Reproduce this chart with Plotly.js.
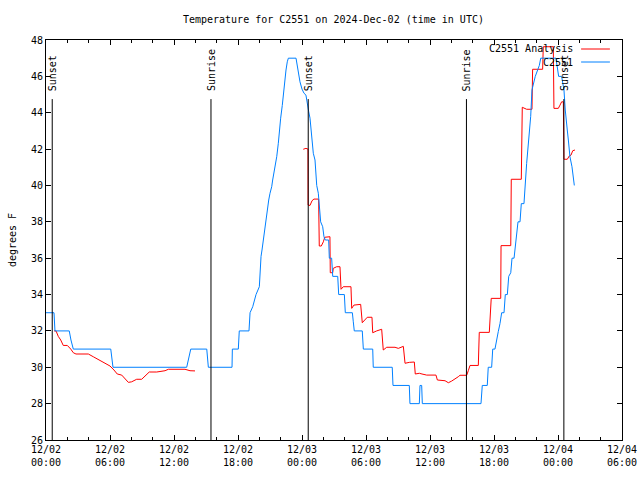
<!DOCTYPE html>
<html>
<head>
<meta charset="utf-8">
<script src="https://cdn.plot.ly/plotly-3.0.1.min.js"></script>
<style>html,body{margin:0;padding:0;background:#fff}#chart{width:640px;height:480px}</style>
</head>
<body>
<div id="chart"></div>
<script>
// Hours since 2024-12-02 00:00 UTC
const blueHours = [0.0,0.75,0.84,2.18,2.34,2.56,6.07,6.19,6.28,13.19,13.36,13.57,15.07,15.22,17.44,17.47,18.03,18.12,19.03,19.13,19.38,19.69,20.0,20.06,20.16,20.25,20.44,20.62,20.75,20.88,21.0,21.16,21.25,21.38,21.56,21.63,21.78,21.87,22.0,22.15,22.25,22.38,22.5,22.62,22.72,23.44,23.5,23.65,23.81,24.0,24.19,24.37,24.5,24.63,24.75,24.97,25.06,25.22,25.38,25.53,25.69,25.75,25.94,26.06,26.18,26.5,26.56,26.78,26.88,27.35,27.44,27.97,28.06,28.72,28.81,28.9,29.65,29.75,30.63,30.68,32.46,32.53,34.06,34.12,35.0,35.06,35.22,35.28,40.78,40.9,41.37,41.46,41.78,41.88,42.09,42.25,42.4,42.56,42.72,42.94,43.06,43.25,43.38,43.57,43.69,43.88,44.06,44.25,44.44,44.56,44.81,44.93,45.06,45.25,45.44,45.56,45.87,46.25,46.38,47.81,47.93,48.06,48.34,48.44,48.56,48.68,48.81,48.87,48.97,49.12,49.31,49.43,49.53];
const blueTemps = [33,33,32,32,31.5,31,31,30.5,30,30,30.5,31,31,30,30,31,31,32,32,33,33.33,34,34.43,35.53,36.1,36.45,37.37,37.95,38.56,39.2,39.57,39.93,40.3,40.76,41.2,41.58,42.32,43.05,43.7,44.4,45.07,45.7,46.35,46.8,47,47,46.8,46.17,45.7,45.3,45.07,44.97,44.4,44.05,43.7,42.5,41.77,41.4,40.0,39.57,38.56,38.0,37.73,37.18,37.0,37.0,36.0,36.0,35.0,35.0,34.0,34.0,33.0,33.0,32.5,32.0,32.0,31.0,31.0,30.0,30.0,29.0,29.0,28.0,28.0,29.0,29.0,28.0,28.0,29.0,29.0,30.0,30.0,31.0,31.0,31.6,31.96,32.4,33.0,33.0,34.0,34.0,35.0,35.2,36.0,36.0,37.0,38.0,38.0,39.0,39.0,40.3,41.2,42.5,43.8,45.25,46.0,46.6,47.0,47.0,46.5,46.0,46.0,45.6,45.25,44.15,43.6,43.05,42.5,41.58,41.03,40.48,40.0];

const redHours = [0.75,0.94,1.15,1.38,1.62,2.0,2.32,2.56,2.81,3.97,4.43,4.9,5.53,6.0,6.37,6.68,7.1,7.41,7.72,8.03,8.5,8.97,9.28,9.68,10.38,11.16,11.47,13.03,13.5,13.97,
  null,
  24.12,24.37,24.56,24.57,24.75,24.94,25.12,25.56,25.62,25.81,26.0,26.13,26.62,26.65,26.88,26.93,27.25,27.56,27.66,27.87,28.59,28.66,28.87,29.5,29.65,29.91,30.12,30.56,30.63,31.0,31.47,31.62,31.94,32.72,33.03,33.5,33.66,34.06,34.53,34.62,35.0,35.25,35.69,36.56,36.69,37.41,37.72,38.03,38.34,38.65,38.81,39.44,39.59,39.75,40.53,40.62,41.56,41.74,42.63,42.66,43.57,43.62,44.56,44.65,45.06,45.56,45.62,46.56,46.62,47.56,47.62,48.03,48.19,48.34,48.5,48.56,48.87,49.06,49.22,49.38,49.59];
const redTemps = [32.0,32.0,31.7,31.5,31.2,31.2,31.0,30.8,30.73,30.73,30.58,30.44,30.25,30.07,29.85,29.63,29.57,29.39,29.17,29.2,29.34,29.34,29.52,29.74,29.74,29.81,29.89,29.89,29.81,29.8,
  null,
  41.99,42.04,42.0,38.92,38.9,39.16,39.25,39.25,36.67,36.67,36.9,37.15,37.18,35.2,35.2,35.44,35.53,35.53,34.29,34.43,34.43,33.24,33.42,33.46,32.45,32.6,32.75,32.75,31.9,32.0,32.09,30.95,31.1,31.1,31.04,31.15,30.22,30.27,30.29,29.63,29.67,29.63,29.57,29.57,29.3,29.26,29.15,29.24,29.34,29.48,29.56,29.56,29.81,30.1,30.1,31.92,31.92,33.79,33.79,36.69,36.69,40.34,40.34,44.3,44.19,44.19,46.39,46.39,47.63,47.63,44.24,44.24,44.42,44.6,44.6,41.44,41.44,41.62,41.67,41.91,41.95];

const sunTimes = ["2024-12-02 00:35","2024-12-02 15:28","2024-12-03 00:35","2024-12-03 15:25","2024-12-04 00:33"];
const sunLabels = ["Sunset","Sunrise","Sunset","Sunrise","Sunset"];

const seriesNames = ["C2551 Analysis","C2551"];
const seriesColors = ["#ff0000","#0080ff"];

const base = Date.UTC(2024,11,2,0,0,0);
function toDate(h){
  if(h===null) return null;
  const d = new Date(base + Math.round(h*3600000));
  const p = n => String(n).padStart(2,'0');
  return d.getUTCFullYear()+'-'+p(d.getUTCMonth()+1)+'-'+p(d.getUTCDate())+' '+p(d.getUTCHours())+':'+p(d.getUTCMinutes())+':'+p(d.getUTCSeconds());
}

const font = "DejaVu Sans Mono, monospace";

const traces = [
  {x: redHours.map(toDate), y: redTemps, name: seriesNames[0], type:'scatter', mode:'lines',
   line:{color:seriesColors[0], width:1}, connectgaps:false},
  {x: blueHours.map(toDate), y: blueTemps, name: seriesNames[1], type:'scatter', mode:'lines',
   line:{color:seriesColors[1], width:1}}
];

const shapes = sunTimes.map(t => ({type:'line', xref:'x', yref:'y', x0:t, x1:t, y0:26, y1:44.75,
  line:{color:'#000', width:1}}));
const annotations = sunTimes.map((t,i) => ({xref:'x', yref:'y', x:t, y:45.08, text:sunLabels[i],
  textangle:-90, showarrow:false, xanchor:'center', yanchor:'bottom', font:{family:font, size:10, color:'#000'}}));

// gnuplot-style legend (text left of sample line)
const legendY = [0.9775, 0.945];
seriesNames.forEach((n,i) => {
  annotations.push({xref:'paper', yref:'paper', x:0.919, y:legendY[i], text:n, showarrow:false,
    xanchor:'right', yanchor:'middle', font:{family:font, size:10, color:'#000'}});
  shapes.push({type:'line', xref:'paper', yref:'paper', x0:0.929, x1:0.979, y0:legendY[i], y1:legendY[i],
    line:{color:seriesColors[i], width:1}});
});

const layout = {
  width:640, height:480,
  margin:{l:46, r:18, t:40, b:40},
  paper_bgcolor:'#fff', plot_bgcolor:'#fff',
  showlegend:false,
  title:{text:'Temperature for C2551 on 2024-Dec-02 (time in UTC)', x:0.521, xref:'container', xanchor:'center',
    y:0.96, yref:'container', yanchor:'middle', font:{family:font, size:10, color:'#000'}},
  xaxis:{type:'date', range:['2024-12-02 00:00','2024-12-04 06:00'], dtick:21600000, tick0:'2024-12-02 00:00',
    tickformat:'%m/%d<br>%H:%M', ticks:'inside', ticklen:5, tickcolor:'#000', showline:true, linecolor:'#000',
    linewidth:1, mirror:'allticks', showgrid:false, zeroline:false,
    minor:{dtick:7200000, ticks:'inside', ticklen:3, tickcolor:'#000', showgrid:false},
    tickfont:{family:font, size:10, color:'#000'}},
  yaxis:{range:[26,48], dtick:2, ticks:'inside', ticklen:5, tickcolor:'#000', showline:true, linecolor:'#000',
    linewidth:1, mirror:'allticks', showgrid:false, zeroline:false,
    tickfont:{family:font, size:10, color:'#000'},
    title:{text:'degrees F', font:{family:font, size:10, color:'#000'}, standoff:12}},
  shapes: shapes,
  annotations: annotations
};

Plotly.newPlot('chart', traces, layout, {staticPlot:true, displayModeBar:false});
</script>
</body>
</html>
